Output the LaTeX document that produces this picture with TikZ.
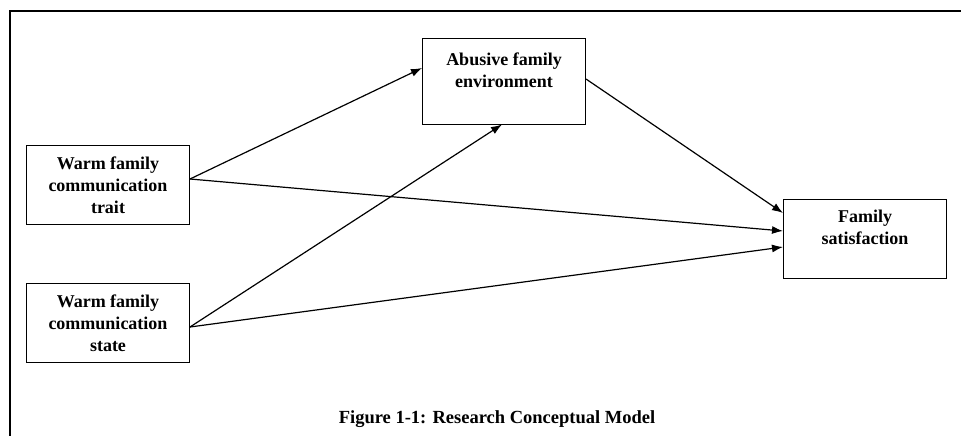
\documentclass[tikz,border=0pt]{standalone}
\usepackage{fontspec}
\setmainfont{Liberation Serif}
\usetikzlibrary{arrows.meta}
\tikzset{
  var/.style={draw, line width=1pt, minimum width=163pt, minimum height=79pt,
    inner sep=0pt, align=center, font=\fontsize{18}{22}\selectfont\bfseries},
  link/.style={line width=1.2pt, -{Latex[length=11pt,width=8pt]}}
}
\begin{document}
\begin{tikzpicture}[x=1pt,y=-1pt]
        \useasboundingbox (0,0) rectangle (961,436);
        % frame
        \draw[line width=1.6pt] (10,436) -- (10,11) -- (961,11);
        % variables
        \node[var] (trait) at (108,185) {Warm family\\communication\\trait};
        \node[var] (state) at (108,323) {Warm family\\communication\\state};
        \node[var, minimum height=85pt] (abuse) at (504,81.5) {Abusive family\\environment\\\mbox{}};
        \node[var] (sat) at (865,238.5) {Family\\satisfaction\\\mbox{}};
        % paths
        \draw[link] ([yshift=6pt]trait.east) -- ([yshift=13.5pt]abuse.west);
        \draw[link] ([yshift=6pt]trait.east) -- ([yshift=7.5pt]sat.west);
        \draw[link] ([yshift=-4pt]state.east) -- ([xshift=-2pt]abuse.south);
        \draw[link] ([yshift=-4pt]state.east) -- ([yshift=-8.5pt]sat.west);
        \draw[link] ([yshift=2.5pt]abuse.east) -- ([yshift=25.5pt]sat.west);
        % caption
        \node[anchor=base, font=\fontsize{18.5}{22}\selectfont\bfseries] (caption) at (497,423) {Figure 1-1: Research Conceptual Model};
\end{tikzpicture}
\end{document}
